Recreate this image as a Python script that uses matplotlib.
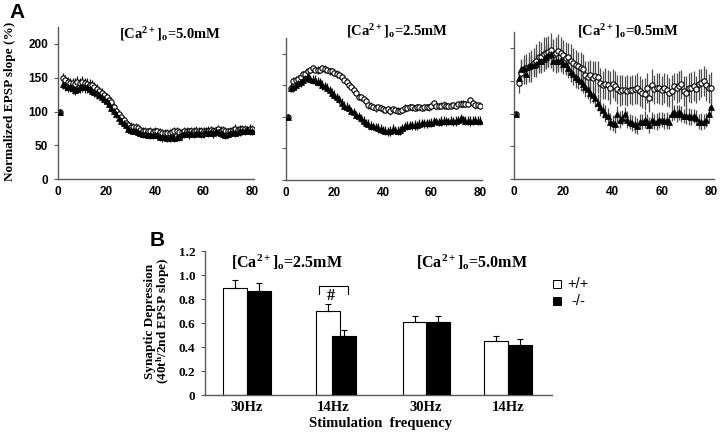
import numpy as np
import matplotlib
matplotlib.use('Agg')
import matplotlib.pyplot as plt
from matplotlib.lines import Line2D

plt.rcParams['mathtext.fontset'] = 'custom'
plt.rcParams['mathtext.rm'] = 'Liberation Serif:bold'
plt.rcParams['mathtext.it'] = 'Liberation Serif:bold'
plt.rcParams['mathtext.bf'] = 'Liberation Serif:bold'

# ---- panel A data: normalized EPSP slope (%) per stimulus, +/+ (open) and -/- (filled)
stim = np.arange(1, 81)

ca50_wt = [100, 149, 146, 144, 142, 142, 141, 144, 142, 144, 142, 141, 140, 139, 136, 134, 130, 127, 124, 121,
           117, 114, 107, 101, 96, 92, 88, 83, 80, 78, 77, 78, 76, 73, 72, 71, 71, 72, 70, 72,
           71, 70, 69, 68, 68, 69, 70, 72, 71, 70, 70, 71, 72, 71, 72, 71, 72, 71, 72, 72,
           71, 72, 73, 72, 73, 74, 72, 73, 72, 71, 72, 73, 74, 73, 74, 75, 74, 73, 74, 74]
ca50_ko = [100, 141, 139, 137, 136, 135, 132, 134, 136, 137, 137, 136, 134, 131, 129, 127, 125, 122, 119, 115,
           111, 106, 101, 96, 90, 86, 83, 80, 75, 73, 72, 71, 70, 68, 67, 67, 66, 66, 65, 66,
           65, 63, 62, 63, 61, 62, 63, 61, 62, 63, 67, 67, 68, 67, 68, 67, 68, 68, 67, 68,
           70, 68, 70, 68, 72, 70, 68, 67, 66, 67, 68, 70, 68, 70, 71, 72, 71, 73, 72, 71]
ca50_wt_sem = [0, 8, 8, 7, 7, 8, 9, 8, 8, 9, 8, 9, 8, 7, 8, 7, 7, 8, 7, 7,
               6, 7, 6, 6, 7, 6, 6, 6, 5, 6, 6, 5, 6, 5, 5, 6, 5, 5, 6, 5,
               5, 6, 5, 6, 6, 5, 6, 6, 7, 6, 5, 6, 6, 5, 6, 6, 7, 6, 6, 5,
               6, 7, 6, 6, 5, 6, 7, 6, 6, 5, 6, 6, 7, 6, 6, 5, 6, 6, 7, 6]
ca50_ko_sem = [0, 7, 8, 8, 7, 9, 8, 7, 8, 8, 9, 8, 8, 7, 8, 8, 7, 7, 8, 7,
               6, 7, 7, 6, 7, 6, 6, 7, 6, 6, 5, 6, 6, 5, 6, 6, 5, 6, 6, 5,
               6, 6, 7, 6, 6, 7, 6, 6, 5, 6, 7, 6, 6, 7, 6, 6, 5, 6, 6, 7,
               6, 5, 6, 7, 6, 6, 5, 6, 7, 6, 6, 5, 6, 6, 7, 6, 5, 6, 6, 6]

ca25_wt = [100, 146, 157, 159, 160, 163, 168, 168, 172, 174, 177, 175, 174, 175, 177, 176, 174, 172, 172, 170,
           168, 167, 163, 159, 156, 151, 147, 143, 138, 132, 131, 128, 125, 119, 118, 116, 114, 116, 114, 112,
           111, 112, 109, 112, 111, 110, 109, 111, 114, 114, 116, 115, 114, 115, 116, 114, 115, 116, 115, 117,
           122, 118, 117, 118, 119, 118, 117, 118, 119, 118, 120, 121, 121, 120, 121, 126, 122, 119, 119, 118]
ca25_ko = [100, 146, 147, 151, 154, 155, 159, 162, 164, 160, 159, 158, 156, 155, 151, 149, 146, 142, 138, 135,
           131, 128, 122, 118, 116, 114, 110, 107, 103, 101, 98, 94, 91, 89, 86, 85, 84, 82, 81, 79,
           78, 77, 78, 81, 79, 78, 79, 82, 85, 86, 87, 87, 87, 87, 89, 90, 90, 90, 90, 91,
           93, 93, 92, 93, 94, 93, 93, 94, 93, 94, 95, 98, 96, 94, 94, 93, 94, 95, 94, 94]
ca25_wt_sem = [0, 6, 6, 5, 6, 6, 5, 6, 6, 5, 6, 6, 6, 5, 6, 6, 5, 6, 6, 5,
               6, 5, 6, 6, 5, 6, 5, 6, 5, 5, 6, 5, 5, 6, 5, 5, 6, 5, 5, 6,
               5, 5, 6, 5, 5, 6, 5, 5, 6, 5, 5, 6, 5, 6, 5, 5, 6, 5, 5, 6,
               5, 6, 5, 5, 6, 5, 5, 6, 5, 6, 5, 6, 5, 5, 6, 6, 5, 6, 5, 5]
ca25_ko_sem = [0, 7, 7, 8, 7, 7, 8, 7, 8, 7, 7, 8, 7, 7, 8, 7, 7, 7, 8, 7,
               7, 7, 8, 7, 7, 7, 6, 7, 7, 6, 7, 7, 6, 7, 7, 6, 7, 8, 7, 6,
               7, 7, 8, 7, 6, 7, 7, 6, 7, 7, 6, 7, 8, 7, 7, 6, 7, 7, 6, 7,
               7, 6, 7, 8, 7, 7, 6, 7, 7, 8, 7, 7, 6, 7, 7, 8, 7, 6, 7, 7]

ca05_wt = [100, 147, 163, 168, 170, 171, 173, 178, 181, 187, 186, 191, 193, 195, 197, 190, 193, 196, 193, 190,
           185, 186, 181, 177, 174, 173, 170, 168, 159, 156, 159, 155, 158, 156, 147, 144, 146, 144, 140, 146,
           142, 137, 135, 136, 136, 135, 136, 136, 137, 139, 135, 131, 130, 139, 124, 144, 137, 139, 139, 136,
           139, 136, 132, 135, 142, 140, 142, 145, 134, 132, 140, 140, 142, 137, 145, 147, 150, 144, 139, 140]
ca05_ko = [100, 155, 168, 170, 161, 173, 174, 175, 176, 180, 180, 183, 187, 190, 191, 181, 180, 180, 182, 176,
           176, 170, 164, 161, 156, 153, 150, 145, 141, 137, 132, 129, 124, 117, 110, 105, 100, 96, 88, 86,
           84, 99, 91, 94, 99, 91, 88, 86, 84, 81, 88, 88, 91, 88, 83, 91, 88, 88, 90, 91,
           89, 90, 88, 100, 102, 100, 102, 99, 96, 96, 96, 95, 96, 94, 88, 88, 88, 90, 99, 110]
ca05_wt_sem = [0, 16, 20, 22, 21, 23, 24, 22, 25, 24, 23, 26, 25, 24, 27, 25, 24, 26, 25, 23,
               24, 22, 25, 23, 24, 22, 24, 23, 22, 24, 23, 25, 22, 24, 23, 22, 24, 23, 25, 22,
               23, 22, 24, 23, 22, 24, 21, 23, 22, 24, 23, 22, 25, 23, 21, 24, 22, 23, 24, 22,
               23, 25, 22, 24, 21, 23, 24, 22, 23, 25, 22, 24, 23, 21, 24, 22, 23, 25, 22, 24]
ca05_ko_sem = [0, 12, 14, 13, 15, 14, 16, 15, 17, 16, 15, 17, 16, 18, 17, 16, 17, 16, 18, 16,
               17, 16, 15, 17, 16, 15, 16, 14, 15, 14, 15, 13, 14, 13, 14, 12, 13, 12, 13, 12,
               13, 12, 13, 12, 11, 13, 12, 12, 13, 12, 11, 12, 13, 12, 12, 11, 12, 13, 12, 11,
               12, 13, 12, 11, 12, 13, 12, 12, 11, 12, 13, 12, 11, 12, 12, 13, 12, 11, 12, 12]

panelA_titles = [r'[Ca$^{2+}$]$_\mathrm{o}$=5.0mM', r'[Ca$^{2+}$]$_\mathrm{o}$=2.5mM', r'[Ca$^{2+}$]$_\mathrm{o}$=0.5mM']

# ---- panel B data: synaptic depression (40th/2nd EPSP slope)
freq_labels = ['30Hz', '14Hz', '30Hz', '14Hz']
dep_wt = [0.89, 0.70, 0.61, 0.45]
dep_wt_err = [0.07, 0.06, 0.05, 0.045]
dep_ko = [0.87, 0.49, 0.61, 0.42]
dep_ko_err = [0.06, 0.05, 0.05, 0.045]
panelB_titles = [r'[Ca$^{2+}$]$_\mathrm{o}$=2.5mM', r'[Ca$^{2+}$]$_\mathrm{o}$=5.0mM']

W, H = 720, 434


def fx(px):
    return px / W


def fy(py):
    return 1 - py / H


def rect(left, top, right, bottom):
    return [fx(left), fy(bottom), (right - left) / W, (bottom - top) / H]


fig = plt.figure(figsize=(7.2, 4.34), dpi=100)
fig.patch.set_facecolor('white')

spine_col = '0.35'
panels = [
    (rect(58, 27, 254.5, 179.3), ca50_wt, ca50_wt_sem, ca50_ko, ca50_ko_sem, True, '0.1'),
    (rect(286, 38, 482.4, 180), ca25_wt, ca25_wt_sem, ca25_ko, ca25_ko_sem, False, '0.1'),
    (rect(514, 32, 713.5, 179), ca05_wt, ca05_wt_sem, ca05_ko, ca05_ko_sem, False, '0.3'),
]
for r, wt, wt_e, ko, ko_e, show_y, ecol in panels:
    ax = fig.add_axes(r)
    ax.errorbar(stim, wt, yerr=wt_e, fmt='none', ecolor=ecol, elinewidth=0.9, capsize=0, zorder=1)
    ax.errorbar(stim, ko, yerr=ko_e, fmt='none', ecolor=ecol, elinewidth=0.9, capsize=0, zorder=1)
    ax.plot(stim, wt, linestyle='none', marker='o', ms=3.8, mfc='white', mec='black', mew=0.8, zorder=3)
    ax.plot(stim, ko, linestyle='none', marker='^', ms=4.0, mfc='black', mec='black', mew=0.5, zorder=4)
    ax.set_xlim(0, 81)
    ax.set_ylim(0, 225)
    ax.set_xticks([0, 20, 40, 60, 80])
    ax.set_yticks([0, 50, 100, 150, 200])
    for s in ['top', 'right']:
        ax.spines[s].set_visible(False)
    for s in ['left', 'bottom']:
        ax.spines[s].set_color(spine_col)
        ax.spines[s].set_linewidth(1.0)
    ax.tick_params(axis='x', length=0, pad=5, labelsize=8.5, colors='black')
    ax.tick_params(axis='y', length=3, width=0.8, color=spine_col, pad=4, labelsize=8.5,
                   labelleft=show_y)
    for lab in ax.get_xticklabels() + ax.get_yticklabels():
        lab.set_family('Liberation Sans')
        lab.set_fontweight('bold')

title_pos = [(170, 34), (397, 31), (628, 31)]
for t, (px, py) in zip(panelA_titles, title_pos):
    fig.text(fx(px), fy(py), t, ha='center', va='center', family='Liberation Serif',
             weight='bold', size=10.5)

fig.text(fx(10), fy(101), 'Normalized EPSP slope (%)', rotation=90, ha='center', va='center',
         family='Liberation Serif', weight='bold', size=9.5)
fig.text(fx(17), fy(12), 'A', ha='center', va='center', family='Liberation Sans', weight='bold', size=15)
fig.text(fx(157), fy(241), 'B', ha='center', va='center', family='Liberation Sans', weight='bold', size=15)

# ---- panel B
axb = fig.add_axes(rect(205, 251, 552, 395))
bar_w = 24
wt_pos = [30, 123, 209.5, 291]
ko_pos = [54, 139, 232.5, 315]
axb.bar(wt_pos, dep_wt, width=bar_w, color='white', edgecolor='black', linewidth=0.8, zorder=2,
        yerr=[np.zeros(4), dep_wt_err], error_kw=dict(ecolor='black', elinewidth=0.8, capsize=2, capthick=0.8))
axb.bar(ko_pos, dep_ko, width=bar_w, color='black', edgecolor='black', linewidth=0.8, zorder=3,
        yerr=[np.zeros(4), dep_ko_err], error_kw=dict(ecolor='black', elinewidth=0.8, capsize=2, capthick=0.8))
axb.set_xlim(0, 347)
axb.set_ylim(0, 1.2)
axb.set_yticks([0, 0.2, 0.4, 0.6, 0.8, 1.0, 1.2])
axb.set_yticklabels(['0', '0.2', '0.4', '0.6', '0.8', '1.0', '1.2'])
group_pos = [42, 128, 221, 303]
axb.set_xticks(group_pos)
axb.set_xticklabels(freq_labels)
for s in ['top', 'right']:
    axb.spines[s].set_visible(False)
for s in ['left', 'bottom']:
    axb.spines[s].set_color(spine_col)
    axb.spines[s].set_linewidth(1.0)
axb.tick_params(axis='x', length=0, pad=4, labelsize=10.5)
axb.tick_params(axis='y', length=3, width=0.8, color=spine_col, pad=4, labelsize=9.5)
for lab in axb.get_xticklabels() + axb.get_yticklabels():
    lab.set_family('Liberation Serif')
    lab.set_fontweight('bold')

# significance bracket over the 14Hz / 2.5mM pair
top = max(dep_wt[1] + dep_wt_err[1], dep_ko[1] + dep_ko_err[1]) + 0.15
axb.plot([wt_pos[1] - 9, wt_pos[1] - 9, ko_pos[1] + 4, ko_pos[1] + 4],
         [top - 0.07, top, top, top - 0.07], color='black', lw=0.8)
axb.text((wt_pos[1] + ko_pos[1]) / 2 - 5, top - 0.085, '#', ha='center', va='center',
         family='Liberation Serif', weight='bold', size=11.5)

for t, px in zip(panelB_titles, [287, 472]):
    fig.text(fx(px), fy(262), t, ha='center', va='center', family='Liberation Serif',
             weight='bold', size=11.5)

fig.text(fx(158), fy(321), 'Synaptic Depression\n' + r'(40t$^{\mathrm{h}}$/2nd EPSP slope)',
         rotation=90, ha='center', va='center', multialignment='center', linespacing=0.95,
         family='Liberation Serif', weight='bold', size=9.5)
fig.text(fx(381), fy(424), 'Stimulation  frequency', ha='center', va='center',
         family='Liberation Serif', weight='bold', size=10.5)

# legend
fig.add_artist(Line2D([fx(557)], [fy(284)], marker='s', ms=5.5, mfc='white', mec='black', mew=0.7,
                      linestyle='none', transform=fig.transFigure))
fig.add_artist(Line2D([fx(557)], [fy(301)], marker='s', ms=5.5, mfc='black', mec='black', mew=0.7,
                      linestyle='none', transform=fig.transFigure))
fig.text(fx(567), fy(284), '+/+', ha='left', va='center', family='Liberation Sans', size=10.5)
fig.text(fx(571), fy(301), '-/-', ha='left', va='center', family='Liberation Sans', size=10.5)

fig.savefig('out.png', dpi=100, facecolor='white')
